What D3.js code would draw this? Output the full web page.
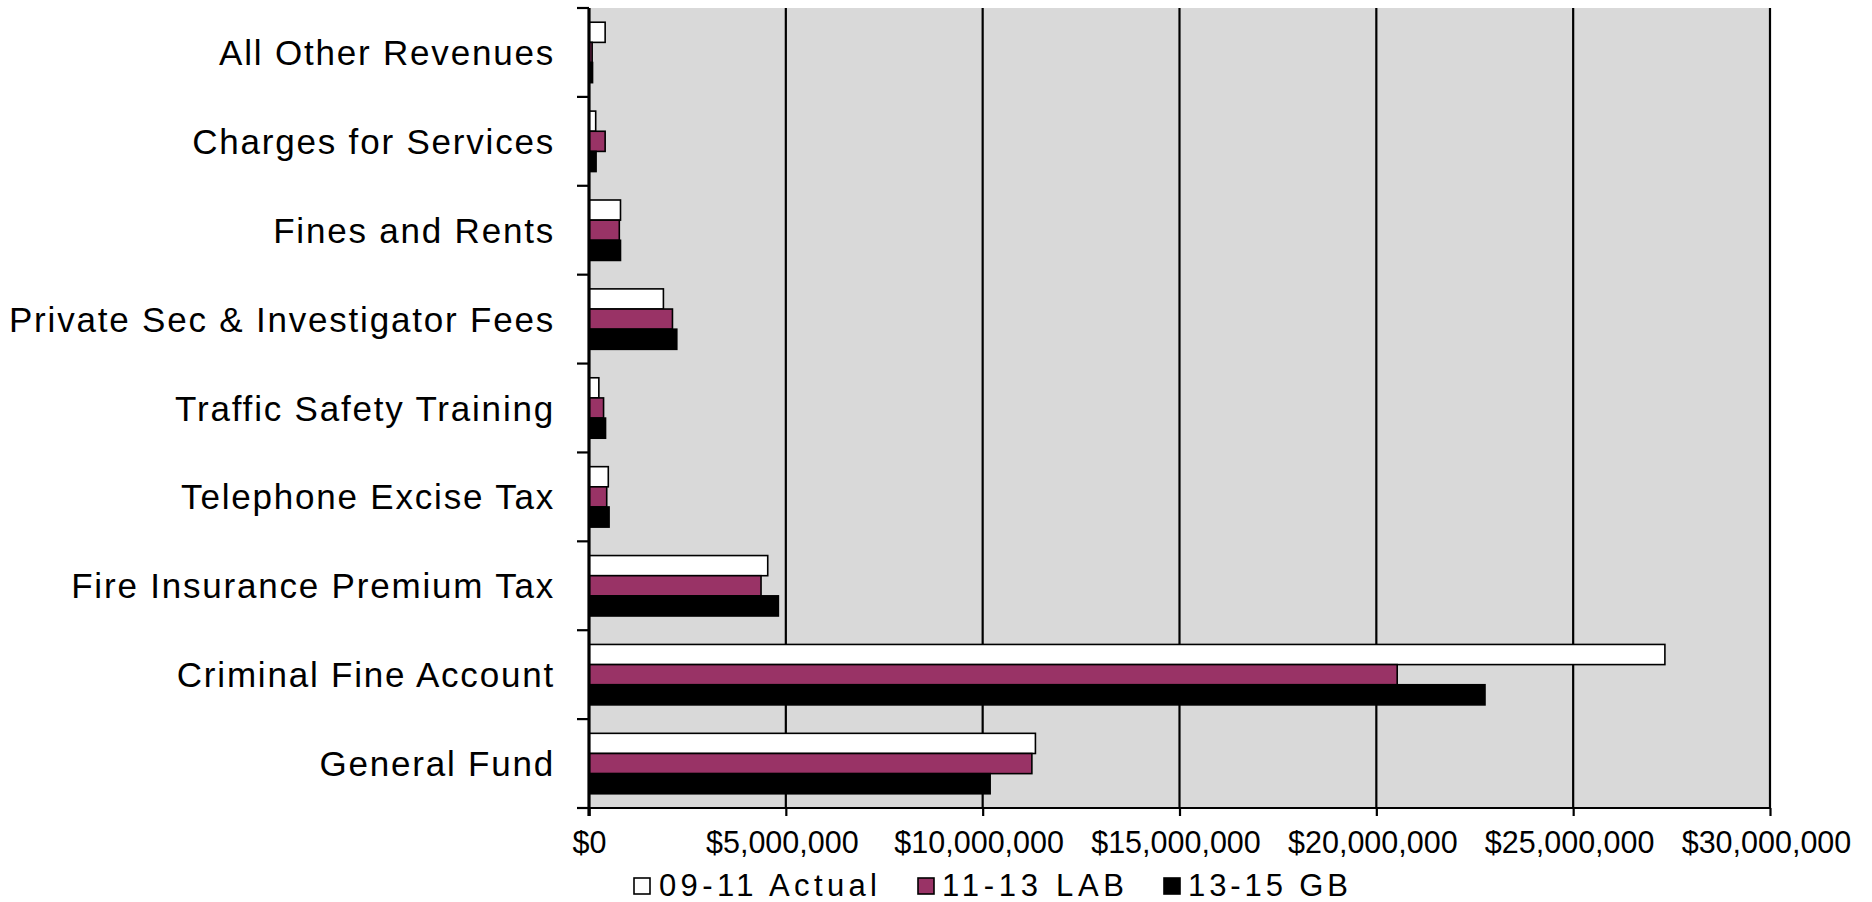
<!DOCTYPE html>
<html>
<head>
<meta charset="utf-8">
<script src="https://cdn.jsdelivr.net/npm/d3@7"></script>
<style>
  html, body { margin: 0; padding: 0; background: #ffffff; }
  svg { display: block; }
  text { font-family: "Liberation Sans", Arial, sans-serif; fill: #000; }
</style>
</head>
<body>
<svg id="chart" width="1872" height="902"></svg>
<script>
const categories = [
  "All Other Revenues",
  "Charges for Services",
  "Fines and Rents",
  "Private Sec & Investigator Fees",
  "Traffic Safety Training",
  "Telephone Excise Tax",
  "Fire Insurance Premium Tax",
  "Criminal Fine Account",
  "General Fund"
];
const seriesNames = ["09-11 Actual", "11-13 LAB", "13-15 GB"];
const seriesColors = ["#ffffff", "#993366", "#000000"];
const actual0911 = [410000, 170000, 800000, 1890000, 250000, 490000, 4540000, 27330000, 11340000];
const lab1113    = [80000, 410000, 770000, 2120000, 370000, 450000, 4370000, 20530000, 11250000];
const gb1315     = [90000, 180000, 800000, 2230000, 420000, 510000, 4810000, 22760000, 10190000];
const xTicks = [0, 5000000, 10000000, 15000000, 20000000, 25000000, 30000000];

const seriesValues = [actual0911, lab1113, gb1315];
const svg = d3.select("#chart");
const plotL = 589, plotR = 1770, plotT = 8, plotB = 808;

const x = d3.scaleLinear().domain([0, 30000000]).range([plotL, plotR]);
const y = d3.scaleBand().domain(categories).range([plotT, plotB]).padding(0);
const ySub = d3.scaleBand().domain(seriesNames)
  .range([y.bandwidth() * 0.16, y.bandwidth() * 0.84]).padding(0);

// plot background
svg.append("rect").attr("x", plotL).attr("y", plotT)
  .attr("width", plotR - plotL).attr("height", plotB - plotT).attr("fill", "#d9d9d9");

// gridlines
svg.append("g").selectAll("line").data(xTicks.slice(1)).join("line")
  .attr("x1", d => x(d)).attr("x2", d => x(d))
  .attr("y1", plotT).attr("y2", plotB)
  .attr("stroke", "#000").attr("stroke-width", 2.2);

// bars
const groups = svg.append("g").selectAll("g").data(categories).join("g")
  .attr("transform", c => `translate(0,${y(c)})`);
groups.selectAll("rect").data((c, i) => seriesNames.map((s, k) => ({ s, k, v: seriesValues[k][i] })))
  .join("rect")
  .attr("x", x(0))
  .attr("y", d => ySub(d.s))
  .attr("width", d => x(d.v) - x(0))
  .attr("height", ySub.bandwidth())
  .attr("fill", d => seriesColors[d.k])
  .attr("stroke", "#000").attr("stroke-width", 1.6);

// bottom axis
const xAxis = d3.axisBottom(x).tickValues(xTicks).tickSize(8).tickPadding(15)
  .tickFormat(d => "$" + d3.format(",")(d));
const gx = svg.append("g").attr("transform", `translate(0,${plotB})`).call(xAxis);
gx.select(".domain").remove();
gx.selectAll(".tick line").attr("stroke", "#000").attr("stroke-width", 2.2);
gx.selectAll(".tick text").style("font-size", "30.5px")
  .attr("dx", d => d === 0 ? 0 : -4)
  .style("font-family", "'Liberation Sans', Arial, sans-serif").attr("fill", "#000");
svg.append("line").attr("x1", plotL - 12).attr("x2", plotR).attr("y1", plotB).attr("y2", plotB)
  .attr("stroke", "#000").attr("stroke-width", 2.2);

// left axis
const boundaries = categories.map(c => y(c)).concat([plotB]);
svg.append("g").selectAll("line").data(boundaries).join("line")
  .attr("x1", plotL - 12).attr("x2", plotL).attr("y1", d => d).attr("y2", d => d)
  .attr("stroke", "#000").attr("stroke-width", 2.2);
svg.append("line").attr("x1", plotL).attr("x2", plotL).attr("y1", plotT).attr("y2", plotB + 8)
  .attr("stroke", "#000").attr("stroke-width", 3.2);

// category labels
svg.append("g").selectAll("text").data(categories).join("text")
  .attr("x", 555)
  .attr("y", c => y(c) + y.bandwidth() / 2 + 12.5)
  .attr("text-anchor", "end")
  .style("font-size", "35px")
  .style("letter-spacing", "1.8px")
  .text(c => c);

// legend (item layout: square x, text x, text width)
const legendLayout = [[634, 659, 218], [918, 942, 182], [1164, 1188, 160]];
const legend = svg.append("g");
seriesNames.forEach((s, k) => {
  const [sx, tx, tw] = legendLayout[k];
  legend.append("rect").attr("x", sx).attr("y", 878).attr("width", 16).attr("height", 16)
    .attr("fill", seriesColors[k]).attr("stroke", "#000").attr("stroke-width", 1.6);
  legend.append("text").attr("x", tx).attr("y", 896)
    .attr("textLength", tw).attr("lengthAdjust", "spacing")
    .style("font-size", "31px").text(s);
});
</script>
</body>
</html>
